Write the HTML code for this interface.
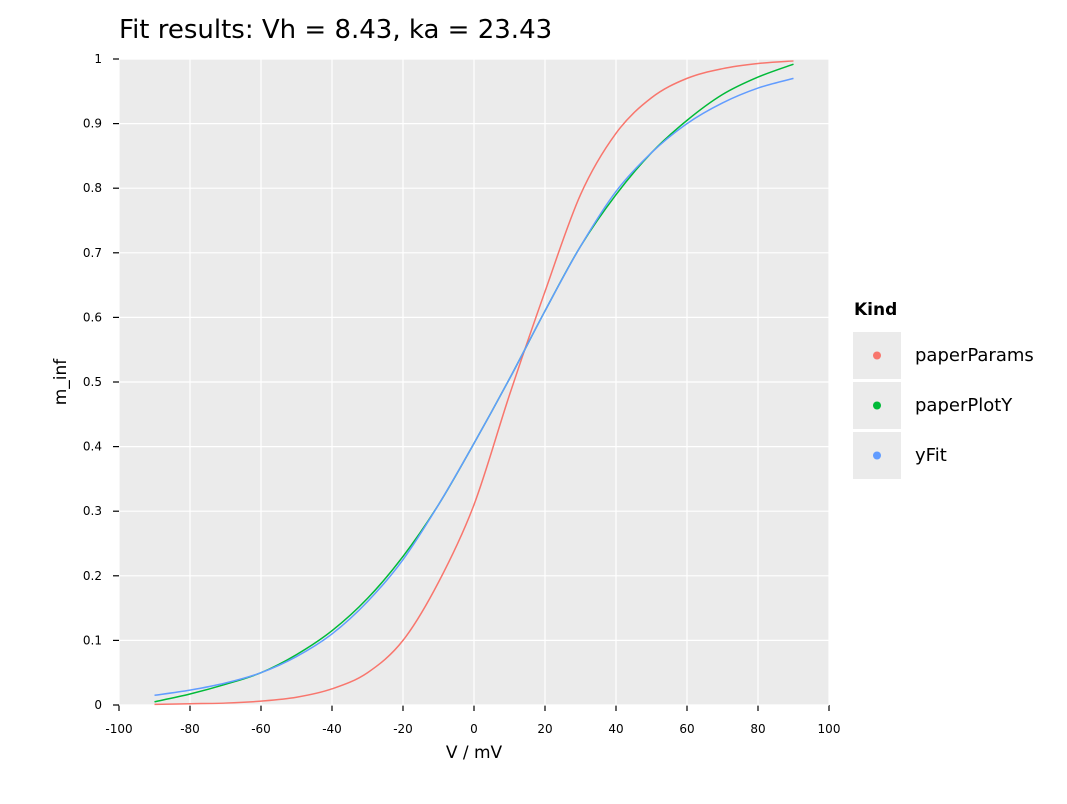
<!DOCTYPE html>
<html><head><meta charset="utf-8"><style>
body{margin:0;background:#fff;font-family:"DejaVu Sans","Liberation Sans",sans-serif}
</style></head><body>
<svg id="chart" width="1067" height="800" xmlns="http://www.w3.org/2000/svg" font-family="DejaVu Sans, Liberation Sans, sans-serif"></svg>
<script>
const xVals=[-90,-80,-70,-60,-50,-40,-30,-20,-10,0,10,20,30,40,50,60,70,80,90];
const paperParams=[0.001,0.002,0.003,0.006,0.012,0.025,0.05,0.1,0.19,0.31,0.48,0.64,0.79,0.885,0.94,0.97,0.985,0.993,0.997];
const paperPlotY=[0.005,0.017,0.032,0.05,0.078,0.115,0.165,0.23,0.31,0.405,0.505,0.61,0.71,0.79,0.855,0.905,0.945,0.972,0.992];
const yFit=[0.015,0.023,0.034,0.05,0.075,0.11,0.16,0.225,0.31,0.405,0.505,0.61,0.71,0.795,0.855,0.9,0.932,0.955,0.97];
const xTicks=[-100,-80,-60,-40,-20,0,20,40,60,80,100];
const yTicks=[0,0.1,0.2,0.3,0.4,0.5,0.6,0.7,0.8,0.9,1];
const seriesNames=["paperParams","paperPlotY","yFit"];
const colors=["#F8766D","#00BA38","#619CFF"];
const L=119,R=829,T=59,B=705;
const sx=v=>L+(v+100)/200*(R-L), sy=v=>B-v*(B-T);
const svg=document.getElementById('chart');const NS="http://www.w3.org/2000/svg";
function mk(tag,attrs,parent){const e=document.createElementNS(NS,tag);for(const k in attrs)e.setAttribute(k,attrs[k]);(parent||svg).appendChild(e);return e;}
let t=mk('text',{x:119,y:38,'font-size':26,fill:'#000'});


t.textContent='Fit results: Vh = 8.43, ka = 23.43';
let bg=mk('rect',{x:L,y:T,width:R-L,height:B-T,fill:'#EBEBEB'});


xTicks.forEach(v=>{
 let g=mk('line',{x1:sx(v),x2:sx(v),y1:T,y2:B,stroke:'#fff','stroke-width':1.2});
 
 
 let k=mk('line',{x1:sx(v),x2:sx(v),y1:B,y2:B+6,stroke:'#000','stroke-width':1.2});
 
 
 let l=mk('text',{x:sx(v),y:B+28,'font-size':12,'text-anchor':'middle'});
 
 
 l.textContent=v;
});
yTicks.forEach(v=>{
 let g=mk('line',{x1:L,x2:R,y1:sy(v),y2:sy(v),stroke:'#fff','stroke-width':1.2});
 
 
 let k=mk('line',{x1:L-6,x2:L,y1:sy(v),y2:sy(v),stroke:'#000','stroke-width':1.2});
 
 
 let l=mk('text',{x:L-17,y:sy(v)+4,'font-size':12,'text-anchor':'end'});
 
 
 l.textContent=v;
});
let xt=mk('text',{x:474,y:758,'font-size':17,'text-anchor':'middle'});


xt.textContent='V / mV';
let yt=mk('text',{x:66,y:382,'font-size':17,'text-anchor':'middle',transform:'rotate(-90 66 382)'});


yt.textContent='m_inf';
function smooth(ys){const p=xVals.map((x,i)=>[sx(x),sy(ys[i])]);let d='M'+p[0][0]+','+p[0][1];
 for(let i=0;i<p.length-1;i++){const p0=p[i-1]||p[i],p1=p[i],p2=p[i+1],p3=p[i+2]||p2;
 d+=` C${p1[0]+(p2[0]-p0[0])/6},${p1[1]+(p2[1]-p0[1])/6} ${p2[0]-(p3[0]-p1[0])/6},${p2[1]-(p3[1]-p1[1])/6} ${p2[0]},${p2[1]}`;}return d;}
[paperParams,paperPlotY,yFit].forEach((ys,i)=>{
 let p=mk('path',{d:smooth(ys),fill:'none',stroke:colors[i],'stroke-width':1.5});
 
 
});
let lt=mk('text',{x:854,y:315,'font-size':17,'font-weight':'bold'});


lt.textContent='Kind';
seriesNames.forEach((n,i)=>{
 const y0=332+i*50;
 let r=mk('rect',{x:853,y:y0,width:48,height:47,fill:'#EBEBEB'});
 
 
 let c=mk('circle',{cx:877,cy:y0+23.5,r:4,fill:colors[i]});
 
 
 let l=mk('text',{x:915,y:y0+29,'font-size':18});
 
 
 l.textContent=n;
});
</script>
</body></html>
